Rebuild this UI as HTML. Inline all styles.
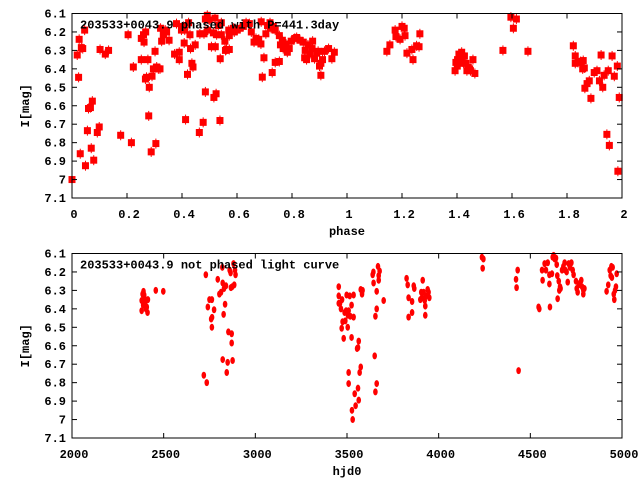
<!DOCTYPE html>
<html><head><meta charset="utf-8"><style>
body{margin:0;background:#fff}
svg{display:block}
text{font-family:"Liberation Mono",monospace;font-weight:bold;font-size:12px;fill:#000}
</style></head><body>
<svg id="c" width="640" height="480" viewBox="0 0 640 480" xmlns="http://www.w3.org/2000/svg"></svg>
<script>
const phaseX=[0,0.019,0.026,0.024,0.03,0.034,0.039,0.046,0.049,0.056,0.06,0.067,0.07,0.074,0.079,0.092,0.099,0.102,0.121,0.133,0.177,0.204,0.216,0.223,0.252,0.252,0.26,0.262,0.268,0.267,0.271,0.276,0.279,0.281,0.288,0.291,0.296,0.302,0.305,0.308,0.314,0.32,0.322,0.326,0.332,0.339,0.344,0.353,0.373,0.38,0.39,0.39,0.398,0.405,0.408,0.41,0.413,0.42,0.424,0.429,0.431,0.436,0.44,0.448,0.463,0.465,0.477,0.48,0.485,0.485,0.492,0.494,0.499,0.507,0.514,0.516,0.52,0.521,0.524,0.526,0.532,0.538,0.539,0.543,0.543,0.556,0.558,0.562,0.57,0.572,0.572,0.587,0.59,0.601,0.611,0.623,0.633,0.645,0.652,0.662,0.669,0.679,0.687,0.688,0.692,0.698,0.705,0.711,0.72,0.724,0.728,0.732,0.739,0.739,0.754,0.754,0.758,0.765,0.768,0.778,0.783,0.79,0.797,0.81,0.817,0.829,0.841,0.846,0.848,0.853,0.858,0.865,0.873,0.875,0.882,0.89,0.895,0.9,0.905,0.911,0.905,0.918,0.933,0.945,0.954,1.145,1.156,1.175,1.178,1.193,1.2,1.208,1.211,1.218,1.236,1.24,1.253,1.262,1.265,1.393,1.396,1.401,1.402,1.407,1.412,1.417,1.42,1.424,1.427,1.432,1.436,1.441,1.446,1.449,1.458,1.465,1.567,1.596,1.605,1.616,1.658,1.823,1.83,1.83,1.84,1.85,1.857,1.859,1.863,1.865,1.873,1.881,1.887,1.899,1.909,1.918,1.924,1.93,1.935,1.95,1.945,1.954,1.964,1.972,1.983,1.985,1.99];
const phaseMag=[7.0,6.325,6.24,6.446,6.86,6.285,6.29,6.19,6.925,6.735,6.615,6.61,6.83,6.575,6.895,6.745,6.715,6.295,6.32,6.3,6.76,6.215,6.8,6.39,6.35,6.235,6.215,6.255,6.2,6.455,6.446,6.35,6.655,6.5,6.85,6.44,6.4,6.305,6.805,6.39,6.4,6.4,6.18,6.25,6.215,6.19,6.2,6.245,6.32,6.155,6.31,6.35,6.19,6.17,6.26,6.19,6.675,6.43,6.15,6.215,6.29,6.37,6.39,6.27,6.745,6.21,6.69,6.21,6.525,6.13,6.11,6.19,6.135,6.28,6.205,6.555,6.125,6.28,6.535,6.215,6.165,6.68,6.345,6.15,6.215,6.25,6.3,6.295,6.19,6.22,6.295,6.18,6.2,6.19,6.18,6.17,6.15,6.155,6.2,6.255,6.235,6.24,6.265,6.145,6.445,6.34,6.21,6.165,6.15,6.18,6.42,6.17,6.19,6.365,6.36,6.22,6.27,6.245,6.29,6.265,6.31,6.29,6.25,6.235,6.23,6.245,6.255,6.34,6.3,6.35,6.27,6.32,6.29,6.25,6.345,6.315,6.305,6.385,6.37,6.35,6.435,6.305,6.29,6.345,6.31,6.305,6.27,6.19,6.225,6.24,6.17,6.18,6.22,6.315,6.295,6.35,6.275,6.28,6.21,6.41,6.365,6.385,6.35,6.32,6.36,6.31,6.33,6.37,6.33,6.37,6.41,6.39,6.4,6.41,6.35,6.425,6.3,6.12,6.18,6.13,6.305,6.275,6.33,6.37,6.365,6.36,6.4,6.355,6.395,6.505,6.48,6.465,6.56,6.42,6.41,6.465,6.325,6.5,6.435,6.41,6.755,6.815,6.33,6.44,6.385,6.955,6.555];
const hjd=[2380,2380,2385,2390,2394,2396,2388,2399,2403,2408,2412,2414,2457,2498,2719,2730,2735,2741,2750,2763,2759,2764,2763,2775,2795,2804,2813,2820,2822,2822,2827,2829,2835,2840,2844,2849,2853,2860,2865,2867,2871,2871,2874,2876,2881,2885,2889,2892,3455,3455,3455,3462,3467,3473,3471,3476,3482,3487,3491,3495,3498,3504,3505,3509,3509,3509,3515,3518,3525,3525,3527,3531,3536,3536,3542,3547,3555,3560,3560,3564,3564,3569,3575,3575,3582,3585,3640,3644,3645,3651,3655,3655,3662,3662,3662,3669,3673,3673,3678,3700,3825,3831,3836,3836,3855,3855,3864,3867,3900,3905,3909,3913,3918,3924,3927,3927,3931,3940,3945,3949,4236,4244,4240,4422,4425,4431,4436,4545,4549,4564,4567,4578,4585,4595,4604,4604,4607,4618,4622,4627,4633,4640,4644,4647,4649,4655,4658,4662,4665,4673,4680,4687,4691,4698,4704,4709,4716,4724,4731,4736,4749,4753,4758,4764,4771,4778,4782,4789,4795,4789,4916,4925,4933,4938,4942,4945,4949,4955,4958,4962,4967,4971];
const hjdMag=[6.41,6.355,6.32,6.305,6.325,6.345,6.38,6.37,6.4,6.39,6.42,6.35,6.3,6.305,6.76,6.215,6.8,6.39,6.35,6.35,6.455,6.446,6.5,6.405,6.24,6.32,6.31,6.175,6.675,6.26,6.43,6.29,6.375,6.275,6.745,6.69,6.525,6.19,6.205,6.285,6.535,6.585,6.28,6.68,6.155,6.27,6.19,6.215,6.28,6.33,6.37,6.37,6.4,6.35,6.505,6.47,6.56,6.42,6.465,6.41,6.325,6.5,6.435,6.41,6.745,6.805,6.33,6.44,6.38,6.555,6.95,7.0,6.325,6.445,6.86,6.925,6.615,6.61,6.83,6.575,6.895,6.745,6.715,6.295,6.32,6.3,6.215,6.2,6.26,6.655,6.44,6.85,6.305,6.4,6.805,6.17,6.22,6.245,6.195,6.355,6.235,6.27,6.34,6.445,6.36,6.42,6.275,6.29,6.35,6.31,6.34,6.245,6.31,6.355,6.385,6.435,6.33,6.295,6.31,6.34,6.12,6.13,6.18,6.24,6.285,6.19,6.735,6.39,6.4,6.19,6.245,6.155,6.19,6.15,6.215,6.265,6.39,6.21,6.12,6.11,6.13,6.125,6.16,6.22,6.345,6.25,6.3,6.28,6.29,6.19,6.17,6.15,6.19,6.2,6.255,6.155,6.175,6.15,6.19,6.215,6.25,6.29,6.31,6.27,6.26,6.245,6.28,6.3,6.29,6.32,6.305,6.27,6.19,6.22,6.17,6.23,6.175,6.32,6.35,6.3,6.28,6.21];
const yTicks=["6.1","6.2","6.3","6.4","6.5","6.6","6.7","6.8","6.9","7","7.1"];
const phaseTicks=["0","0.2","0.4","0.6","0.8","1","1.2","1.4","1.6","1.8","2"];
const hjdTicks=["2000","2500","3000","3500","4000","4500","5000"];

const svg=document.getElementById('c');
const NS='http://www.w3.org/2000/svg';
function mk(tag,attrs,parent){const e=document.createElementNS(NS,tag);for(const k in attrs)e.setAttribute(k,attrs[k]);(parent||svg).appendChild(e);return e;}
const L=72,R=622;
function panel(top,bot,xmin,xmax,xt,xs,ys,title,xlabel,name,square){
  const g=mk('g',{});
  
  
  const sx=v=>L+(v-xmin)/(xmax-xmin)*(R-L);
  const sy=v=>top+(v-6.1)/1.0*(bot-top);
  const pts=mk('g',{},g);
  
  
  for(let i=0;i<xs.length;i++){
    const x=sx(xs[i]),y=sy(ys[i]);
    if(square){
      mk('line',{x1:x,y1:y-5,x2:x,y2:y+5,stroke:'#f00','stroke-width':1},pts);
      const r=mk('rect',{x:x-3.5,y:y-3.5,width:7,height:7,fill:'#f00'},pts);
      
      
    }else{
      const r=mk('ellipse',{cx:x,cy:y,rx:2.3,ry:3.5,fill:'#f00'},pts);
      
      
    }
  }
  const ax=mk('g',{},g);
  
  
  mk('rect',{x:L,y:top,width:R-L,height:bot-top,fill:'none',stroke:'#000','stroke-width':1},ax);
  yTicks.forEach(t=>{const y=sy(parseFloat(t));
    mk('line',{x1:L,y1:y,x2:L+5,y2:y,stroke:'#000'},ax);
    mk('line',{x1:R,y1:y,x2:R-5,y2:y,stroke:'#000'},ax);
    const tx=mk('text',{x:L-6,y:y+4,'text-anchor':'end'},ax);tx.textContent=t;
    
    
  });
  xt.forEach(t=>{const x=sx(parseFloat(t));
    mk('line',{x1:x,y1:bot,x2:x,y2:bot-5,stroke:'#000'},ax);
    mk('line',{x1:x,y1:top,x2:x,y2:top+5,stroke:'#000'},ax);
    const tx=mk('text',{x:x+2,y:bot+20,'text-anchor':'middle'},ax);tx.textContent=t;
    
    
  });
  const tt=mk('text',{x:80,y:top+15},g);tt.textContent=title;
  
  
  const xl=mk('text',{x:347,y:bot+37,'text-anchor':'middle'},g);xl.textContent=xlabel;
  
  
  const cy=(top+bot)/2;
  const yl=mk('text',{x:0,y:0,'text-anchor':'middle',transform:`translate(29,${cy}) rotate(-90)`},g);yl.textContent='I[mag]';
  
  
}
panel(13.5,198,0,2,phaseTicks,phaseX,phaseMag,'203533+0043.9 phased with P=441.3day','phase','phased-panel',true);
panel(253.5,438,2000,5000,hjdTicks,hjd,hjdMag,'203533+0043.9 not phased light curve','hjd0','unphased-panel',false);
</script>
</body></html>
